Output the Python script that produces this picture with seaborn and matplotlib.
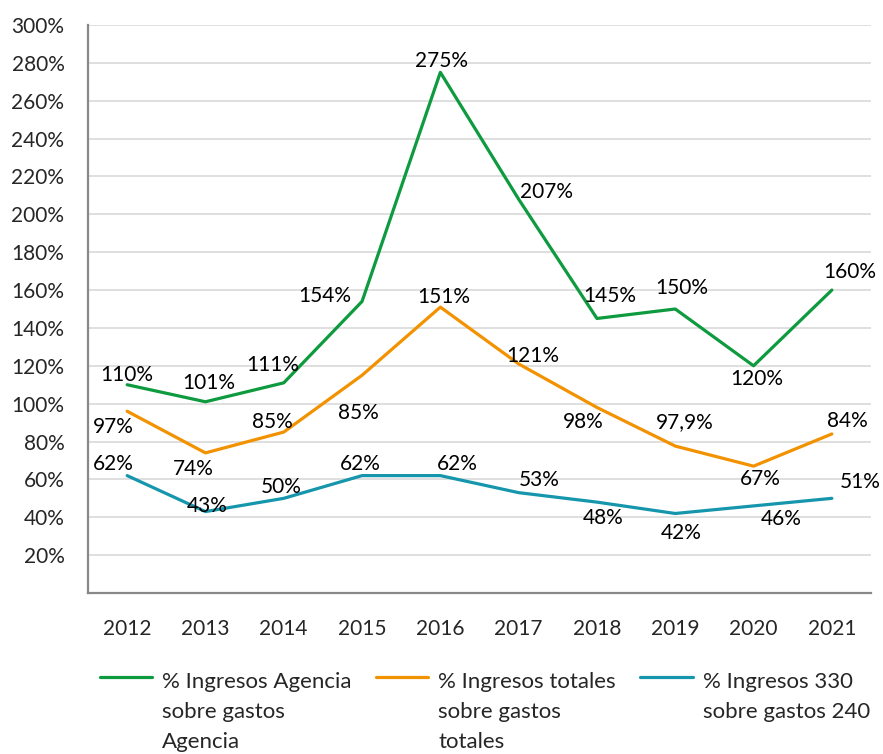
import matplotlib
matplotlib.use("Agg")
import matplotlib.pyplot as plt
import pandas as pd
import seaborn as sns
from matplotlib.legend_handler import HandlerLine2D

years = ["2012", "2013", "2014", "2015", "2016", "2017", "2018", "2019", "2020", "2021"]

agencia = [110, 101, 111, 154, 275, 208, 145, 150, 120, 160]
totales = [96, 74, 85, 115, 151, 121, 98, 77.6, 67, 84]
ing_330 = [62, 43, 50, 62, 62, 53, 48, 42, 46, 50]

agencia_labels = ["110%", "101%", "111%", "154%", "275%", "207%", "145%", "150%", "120%", "160%"]
totales_labels = ["97%", "74%", "85%", "85%", "151%", "121%", "98%", "97,9%", "67%", "84%"]
ing_330_labels = ["62%", "43%", "50%", "62%", "62%", "53%", "48%", "42%", "46%", "51%"]

series_names = [
    "% Ingresos Agencia\nsobre gastos\nAgencia",
    "% Ingresos totales\nsobre gastos\ntotales",
    "% Ingresos 330\nsobre gastos 240",
]
colors = ["#0E9A3E", "#F39200", "#1596AC"]

# label offsets in pixels (dx, dy), dy positive = up
agencia_off = [(0, 10), (3, 19), (-11, 18), (-37, 5), (1, 11), (28, 7), (13, 22), (7, 21), (3, -13), (18, 18)]
totales_off = [(-14, -16), (-12, -16), (-11, 10), (-4, -38), (3, 10), (14, 8), (-14, -15), (9, 24), (7, -13), (16, 13)]
ing_330_off = [(-14, 12), (2, 6), (-3, 11), (-2, 12), (17, 12), (21, 13), (6, -16), (6, -20), (28, -13), (28, 16)]

FS = 15
LEG_FS = 16
LEG_LS = 1.64


class TopLineHandler(HandlerLine2D):
    """put the legend line next to the first line of a multi-line label"""
    def __init__(self, shift, **kw):
        super().__init__(**kw)
        self.shift = shift

    def create_artists(self, legend, orig_handle, xdescent, ydescent, width, height, fontsize, trans):
        arts = super().create_artists(legend, orig_handle, xdescent, ydescent, width, height, fontsize, trans)
        for a in arts:
            a.set_ydata([y + self.shift for y in a.get_ydata()])
        return arts


df = pd.DataFrame({"year": years * 3,
                   "value": agencia + totales + ing_330,
                   "serie": [series_names[0]] * 10 + [series_names[1]] * 10 + [series_names[2]] * 10})

sns.set_style("white")
plt.rcParams["font.family"] = ["Lato", "DejaVu Sans"]

fig = plt.figure(figsize=(8.83, 7.54), dpi=100)
ax = fig.add_axes([88 / 883, 1 - 593 / 754, 783 / 883, 568 / 754])

sns.lineplot(data=df, x="year", y="value", hue="serie", palette=colors,
             linewidth=2.3, ax=ax, legend=False, sort=False)

px = 72 / 100
for vals, labs, offs in [(agencia, agencia_labels, agencia_off),
                         (totales, totales_labels, totales_off),
                         (ing_330, ing_330_labels, ing_330_off)]:
    for i, (v, lab, (dx, dy)) in enumerate(zip(vals, labs, offs)):
        ax.annotate(lab, (i, v), xytext=(dx * px, dy * px), textcoords="offset points",
                    ha="center", va="center", fontsize=FS, color="black")

ax.set_xlim(-0.5, 9.5)
ax.set_ylim(0, 300)
ax.set_yticks(range(0, 301, 20))
ax.set_yticklabels([""] + [f"{v}%" for v in range(20, 301, 20)])
ax.set_xticks(range(10))
ax.set_xticklabels(years)
ax.set_xticks([i - 0.5 for i in range(11)], minor=True)
ax.tick_params(axis="x", which="major", length=0, pad=19, labelsize=FS)
ax.tick_params(axis="x", which="minor", length=6, width=1.3, color="#888888", direction="out")
ax.tick_params(axis="y", length=6, width=1.3, color="#888888", direction="out", pad=11, labelsize=FS)
ax.yaxis.grid(True, color="#D9D9D9", linewidth=1.2)
ax.set_axisbelow(True)
ax.set_xlabel("")
ax.set_ylabel("")
for s in ["top", "right"]:
    ax.spines[s].set_visible(False)
for s in ["left", "bottom"]:
    ax.spines[s].set_color("#888888")
    ax.spines[s].set_linewidth(1.6)

# all labels padded to three lines so the columns line up at the top
leg_labels = [n if n.count("\n") == 2 else n + "\n " for n in series_names]
handles = [plt.Line2D([], [], color=c, linewidth=2.3) for c in colors]
shift = 31 * 72 / 100 + 3.4
leg = fig.legend(handles, leg_labels, loc="upper left", bbox_to_anchor=(100 / 883, 1 - 672 / 754),
                 ncol=3, frameon=False, fontsize=LEG_FS, handlelength=2.35, handletextpad=0.45,
                 columnspacing=1.1, borderpad=0, borderaxespad=0,
                 handler_map={h: TopLineHandler(shift) for h in handles})
for t in leg.get_texts():
    t.set_linespacing(LEG_LS)

fig.savefig("out.png", dpi=100)
